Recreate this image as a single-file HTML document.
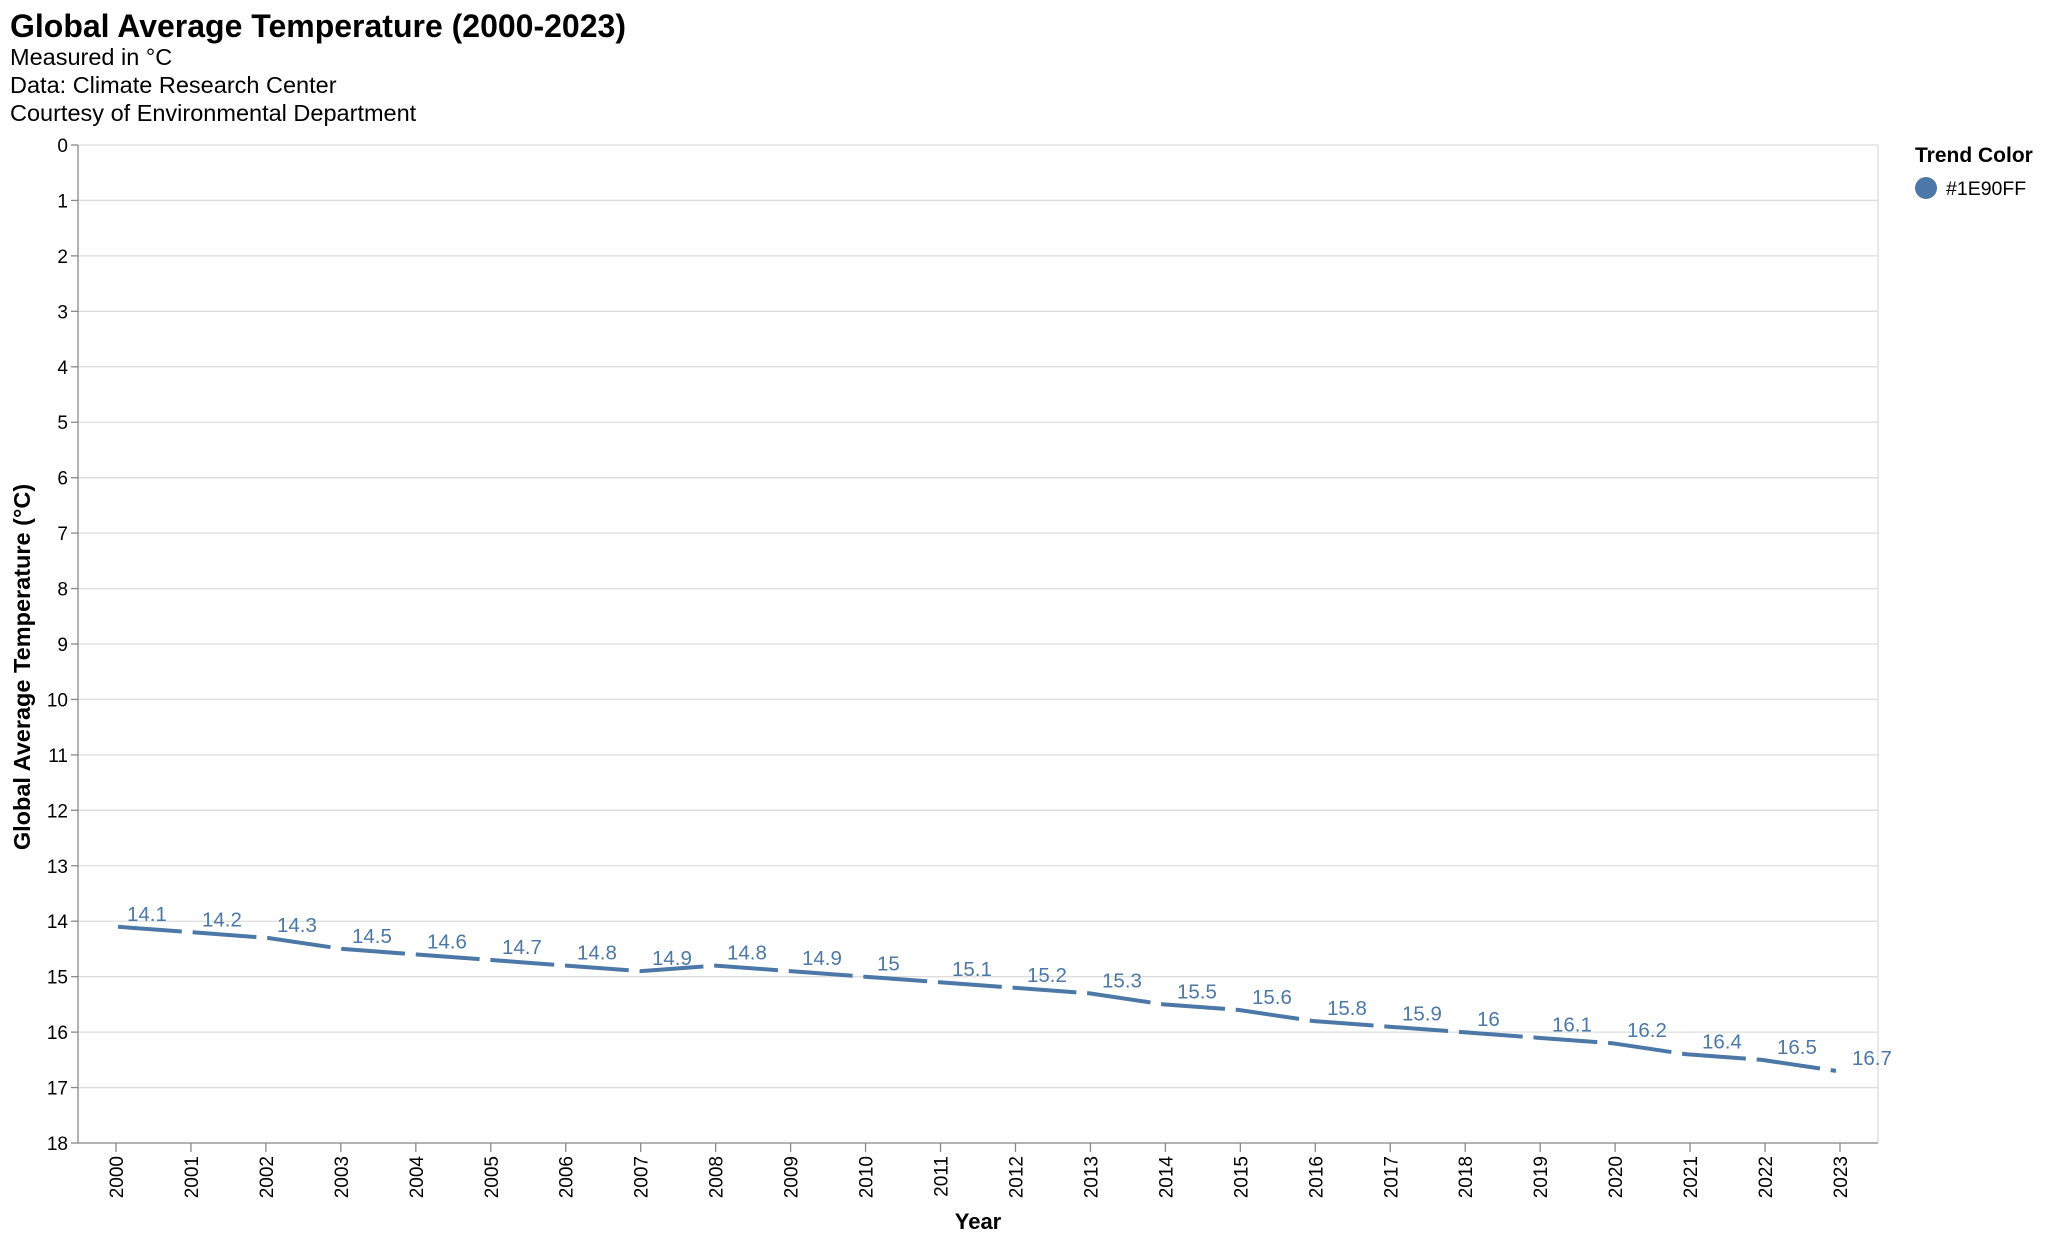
<!DOCTYPE html>
<html><head><meta charset="utf-8">
<style>
html,body{margin:0;padding:0;background:#fff;}
svg{display:block;font-family:"Liberation Sans",Arial,sans-serif;}
</style></head>
<body>
<svg id="chart" width="2048" height="1244" viewBox="0 0 2048 1244" xmlns="http://www.w3.org/2000/svg">
<rect width="2048" height="1244" fill="#fff"/>
<text x="10" y="37" font-size="32" font-weight="bold" fill="#000">Global Average Temperature (2000-2023)</text>
<text x="10" y="65" font-size="23.5" fill="#000">Measured in °C</text>
<text x="10" y="93" font-size="23.5" fill="#000">Data: Climate Research Center</text>
<text x="10" y="121" font-size="23.5" fill="#000">Courtesy of Environmental Department</text>
<g id="grid"></g>
<g id="yaxis"></g>
<g id="xaxis"></g>
<g id="series"></g>
<text transform="translate(30,667) rotate(-90)" text-anchor="middle" font-size="23.5" font-weight="bold" fill="#000">Global Average Temperature (°C)</text>
<text x="978" y="1229" text-anchor="middle" font-size="22" font-weight="bold" fill="#000">Year</text>
<g>
<text x="1915" y="162" font-size="21" font-weight="bold" fill="#000">Trend Color</text>
<circle cx="1926" cy="188" r="11" fill="#4c78a8"/>
<text x="1946" y="195" font-size="19.5" fill="#000">#1E90FF</text>
</g>
</svg>
<script>
const years = [2000,2001,2002,2003,2004,2005,2006,2007,2008,2009,2010,2011,2012,2013,2014,2015,2016,2017,2018,2019,2020,2021,2022,2023];
const temps = [14.1,14.2,14.3,14.5,14.6,14.7,14.8,14.9,14.8,14.9,15,15.1,15.2,15.3,15.5,15.6,15.8,15.9,16,16.1,16.2,16.4,16.5,16.7];
const yTicks = [0,1,2,3,4,5,6,7,8,9,10,11,12,13,14,15,16,17,18];

const NS = "http://www.w3.org/2000/svg";
const L = 78, R = 1878, T = 145, B = 1143;
const yMax = 18;
function y(v){ return T + (v / yMax) * (B - T); }
function xTick(i){ return 116 + i * (1840 - 116) / (years.length - 1); }
function xLine(i){ return 118 + i * (1836 - 118) / (years.length - 1); }
function xLabel(i){ return 127 + i * (1852 - 127) / (years.length - 1); }
function mk(tag, attrs, parent){
  const e = document.createElementNS(NS, tag);
  for (const k in attrs) e.setAttribute(k, attrs[k]);
  parent.appendChild(e); return e;
}
const grid = document.getElementById('grid');
const yaxis = document.getElementById('yaxis');
const xaxis = document.getElementById('xaxis');
const series = document.getElementById('series');

yTicks.forEach(v => {
  const g = mk('line', {x1:L, x2:R, y1:y(v), y2:y(v), stroke:'#ddd', 'stroke-width':1.3}, grid);
  
  
  const t = mk('line', {x1:L-7, x2:L, y1:y(v), y2:y(v), stroke:'#888', 'stroke-width':1.3}, yaxis);
  
  
  const lb = mk('text', {x:L-10, y:y(v)+7, 'text-anchor':'end', 'font-size':19, fill:'#000'}, yaxis);
  lb.textContent = v;
  
  
});
const rb = mk('line', {x1:R, x2:R, y1:T, y2:B, stroke:'#ddd', 'stroke-width':1.3}, grid);


const ya = mk('line', {x1:L, x2:L, y1:T, y2:B, stroke:'#888', 'stroke-width':1.3}, yaxis);


const xa = mk('line', {x1:L, x2:R, y1:B, y2:B, stroke:'#888', 'stroke-width':1.3}, xaxis);



years.forEach((yr, i) => {
  const x = xTick(i);
  const t = mk('line', {x1:x, x2:x, y1:B, y2:B+9, stroke:'#888', 'stroke-width':1.3}, xaxis);
  
  
  const lb = mk('text', {transform:'translate('+(x+7)+','+(B+13)+') rotate(-90)', 'text-anchor':'end', 'font-size':19, fill:'#000'}, xaxis);
  lb.textContent = yr;
  
  
});

const d = temps.map((v, i) => (i ? 'L' : 'M') + xLine(i).toFixed(1) + ',' + y(v).toFixed(1)).join(' ');
const path = mk('path', {d:d, fill:'none', stroke:'#4c78a8', 'stroke-width':4, 'stroke-dasharray':'64,10.8'}, series);



temps.forEach((v, i) => {
  const lb = mk('text', {x:xLabel(i), y:y(v)-6, 'font-size':20.5, fill:'#4c78a8'}, series);
  lb.textContent = v;
  
  
});
</script>
</body></html>
